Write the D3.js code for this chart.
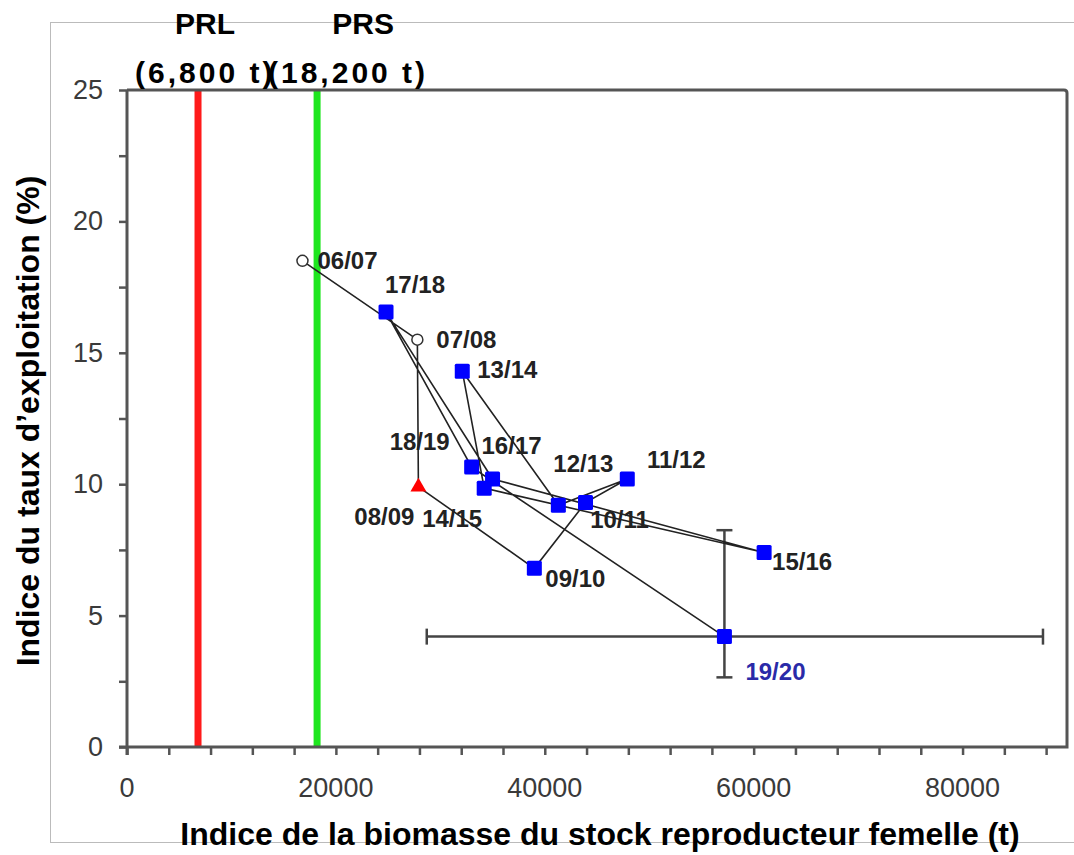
<!DOCTYPE html>
<html><head><meta charset="utf-8">
<script src="https://cdn.jsdelivr.net/npm/d3@7"></script>
<style>
html,body{margin:0;padding:0;background:#fff;}
svg{display:block;font-family:Arial,"Liberation Sans",sans-serif;}
</style></head>
<body>
<svg id="c" width="1074" height="855"></svg>
<script>
// ---- data ----
const seasons = ["06/07","07/08","08/09","09/10","10/11","11/12","12/13","13/14","14/15","15/16","16/17","17/18","18/19","19/20"];
const biomass = [16800, 27800, 27900, 39000, 43900, 47900, 41300, 32100, 34200, 61000, 35000, 24800, 33000, 57200];
const exploitation = [18.5, 15.5, 9.9, 6.8, 9.3, 10.2, 9.2, 14.3, 9.85, 7.4, 10.2, 16.55, 10.65, 4.2];
const markerType = ["circle","circle","triangle","square","square","square","square","square","square","square","square","square","square","square"];
const refNames = ["PRL","PRS"];
const refValues = [6800, 18200];
const refLabels = ["(6,800 t)","(18,200 t)"];
const errSeason = "19/20";
const errX = [28700, 87700];
const errY = [2.65, 8.25];
const xTicks = [0, 20000, 40000, 60000, 80000];
const yTicks = [0, 5, 10, 15, 20, 25];
const xTitle = "Indice de la biomasse du stock reproducteur femelle (t)";
const yTitle = "Indice du taux d\u2019exploitation (%)";

// ---- layout ----
const svg = d3.select("#c");
const L = 127, R = 1067, T = 90, B = 747;
const x = d3.scaleLinear().domain([0, 90000]).range([L, R]);
const y = d3.scaleLinear().domain([0, 25]).range([B, T]);

// outer frame
svg.append("rect").attr("x",50.5).attr("y",22.5).attr("width",1040).attr("height",820)
  .attr("fill","none").attr("stroke","#bbb").attr("stroke-width",1);

// reference lines
const refColors = ["#ff1a1a","#1ee61e"];
refValues.forEach((v,i)=>{
  svg.append("line").attr("x1",x(v)).attr("x2",x(v)).attr("y1",T).attr("y2",B)
    .attr("stroke",refColors[i]).attr("stroke-width",7);
});

// axes
const axisColor = "#555";
const gx = svg.append("g").attr("transform",`translate(0,${B})`)
  .call(d3.axisBottom(x).tickValues(d3.range(0, 90001, 4000)).tickSize(8).tickFormat(""));
const gy = svg.append("g").attr("transform",`translate(${L},0)`)
  .call(d3.axisLeft(y).tickValues(d3.range(0, 25.01, 2.5)).tickSize(8).tickFormat(""));
[gx,gy].forEach(g=>{
  g.select(".domain").remove();
  g.selectAll(".tick line").attr("stroke",axisColor).attr("stroke-width",2.5);
});
// box
svg.append("path").attr("d",`M${L},${T}H${R-3}Q${R},${T} ${R},${T+3}V${B}H${L-8}M${L},${T}V${B+8}`)
  .attr("fill","none").attr("stroke",axisColor).attr("stroke-width",3);

// tick labels
svg.append("g").selectAll("text").data(xTicks).join("text")
  .attr("x",d=>x(d)).attr("y",B+50).attr("text-anchor","middle")
  .attr("font-size",27).attr("fill","#3a3a3a").text(d=>d);
svg.append("g").selectAll("text").data(yTicks).join("text")
  .attr("x",L-24).attr("y",d=>y(d)+9).attr("text-anchor","end")
  .attr("font-size",27).attr("fill","#3a3a3a").text(d=>d);

// titles
svg.append("text").attr("x",600).attr("y",845).attr("text-anchor","middle")
  .attr("font-size",32).attr("font-weight","bold").attr("fill","#000").text(xTitle);
svg.append("text").attr("transform","translate(39,421) rotate(-90)").attr("text-anchor","middle")
  .attr("font-size",32).attr("font-weight","bold").attr("fill","#000").text(yTitle);

// ref labels
refNames.forEach((n,i)=>{
  svg.append("text").attr("x",x(refValues[i])+[7,46][i]).attr("y",34).attr("text-anchor","middle")
    .attr("font-size",30).attr("font-weight","bold").attr("fill","#000").text(n);
});
svg.append("text").attr("x",135).attr("y",83).attr("font-size",30).attr("font-weight","bold")
  .attr("letter-spacing",3).attr("fill","#000").text(refLabels[0]);
svg.append("text").attr("x",268).attr("y",83).attr("font-size",30).attr("font-weight","bold")
  .attr("letter-spacing",3).attr("fill","#000").text(refLabels[1]);

// data
const pts = seasons.map((s,i)=>({s, b:biomass[i], e:exploitation[i], m:markerType[i]}));

// error bars
const ep = pts.find(p=>p.s===errSeason);
const eb = svg.append("g").attr("stroke","#444").attr("stroke-width",2.5);
eb.append("line").attr("x1",x(errX[0])).attr("x2",x(errX[1])).attr("y1",y(ep.e)).attr("y2",y(ep.e));
[errX[0],errX[1]].forEach(v=>eb.append("line").attr("x1",x(v)).attr("x2",x(v)).attr("y1",y(ep.e)-8).attr("y2",y(ep.e)+8));
eb.append("line").attr("x1",x(ep.b)).attr("x2",x(ep.b)).attr("y1",y(errY[0])).attr("y2",y(errY[1]));
[errY[0],errY[1]].forEach(v=>eb.append("line").attr("x1",x(ep.b)-8).attr("x2",x(ep.b)+8).attr("y1",y(v)).attr("y2",y(v)));

// trajectory line
svg.append("path").datum(pts)
  .attr("d",d3.line().x(d=>x(d.b)).y(d=>y(d.e)))
  .attr("fill","none").attr("stroke","#222").attr("stroke-width",1.6);

// markers
const mg = svg.append("g");
pts.forEach(p=>{
  const cx=x(p.b), cy=y(p.e);
  if(p.m==="square"){
    mg.append("rect").attr("x",cx-7.5).attr("y",cy-7.5).attr("width",15).attr("height",15).attr("rx",1.5)
      .attr("fill","#0000ff");
  } else if(p.m==="circle"){
    mg.append("circle").attr("cx",cx).attr("cy",cy).attr("r",5.5)
      .attr("fill","#fff").attr("stroke","#333").attr("stroke-width",1.5);
  } else {
    mg.append("path").attr("transform",`translate(${cx},${cy})`)
      .attr("d",d3.symbol(d3.symbolTriangle,110)()).attr("fill","#ff0000");
  }
});

// labels (offsets in px from point)
const lab = {
  "06/07":[15,8,"start"], "07/08":[19,8,"start"], "08/09":[-34,38,"middle"],
  "09/10":[11,19,"start"], "10/11":[34,25,"middle"], "11/12":[49,-11,"middle"],
  "12/13":[25,-33,"middle"], "13/14":[15,7,"start"], "14/15":[-32,39,"middle"],
  "15/16":[8,17,"start"], "16/17":[19,-25,"middle"], "17/18":[29,-19,"middle"],
  "18/19":[-52,-17,"middle"], "19/20":[21,43,"start"]
};
svg.append("g").selectAll("text").data(pts).join("text")
  .attr("x",d=>x(d.b)+lab[d.s][0]).attr("y",d=>y(d.e)+lab[d.s][1])
  .attr("text-anchor",d=>lab[d.s][2])
  .attr("font-size",24).attr("font-weight","bold")
  .attr("fill",d=>d.s===errSeason?"#2a2aa8":"#222").text(d=>d.s);
</script>
</body></html>
